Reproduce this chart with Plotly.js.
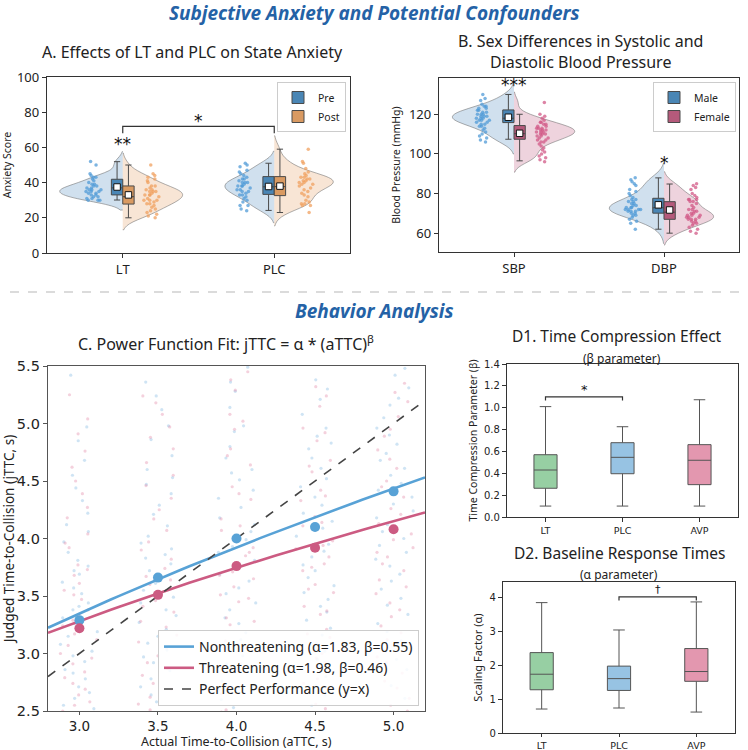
<!DOCTYPE html>
<html>
<head>
<meta charset="utf-8">
<script src="https://cdn.plot.ly/plotly-3.0.1.min.js"></script>
<style>
  html, body { margin: 0; padding: 0; background: #ffffff; }
  #fig { width: 748px; height: 750px; }
</style>
</head>
<body>
<div id="fig"></div>
<script>
// ---------------- Panel A: state anxiety (Pre / Post) ----------------
const anxGroups = ['LT', 'PLC'];
const anxPreLT   = [52, 50, 45, 44, 43, 43, 42, 41, 40, 39, 39, 38, 38, 37, 37, 36, 36, 36, 35, 35, 35, 34, 34, 33, 33, 32, 32, 31, 31, 30, 30, 30];
const anxPostLT  = [50, 45, 44, 43, 42, 41, 40, 38, 38, 37, 36, 36, 35, 35, 35, 34, 33, 33, 33, 32, 31, 30, 30, 30, 29, 28, 28, 27, 26, 25, 24, 23, 22, 21, 20];
const anxPrePLC  = [51, 50, 49, 47, 46, 45, 44, 43, 42, 42, 41, 40, 40, 40, 39, 38, 38, 38, 37, 36, 36, 35, 35, 34, 33, 33, 32, 31, 30, 29, 27, 27, 25, 24];
const anxPostPLC = [59, 52, 51, 48, 46, 45, 44, 43, 43, 42, 42, 41, 41, 40, 40, 39, 39, 38, 37, 36, 35, 34, 33, 32, 30, 29, 28, 28, 27, 27, 23];
// box summaries per group: [lower whisker, Q1, median, Q3, upper whisker]
const anxPreBox  = [[30.1, 33.0, 37.0, 41.9, 51.9], [24.2, 33.3, 37.6, 43.4, 51.0]];
const anxPostBox = [[20.0, 27.8, 32.0, 38.1, 50.0], [23.0, 32.6, 37.7, 43.4, 59.0]];
const anxPreMean  = [37.5, 37.8];
const anxPostMean = [33.0, 38.0];

// ---------------- Panel B: blood pressure by sex ----------------
const bpGroups = ['SBP', 'DBP'];
const bpMaleSBP   = [130, 128, 127, 125, 124, 124, 123, 123, 122, 122, 121, 121, 120, 120, 120, 119, 119, 119, 118, 118, 118, 117, 117, 117, 116, 116, 115, 115, 114, 114, 113, 112, 111, 110, 109, 108, 107, 106];
const bpFemaleSBP = [126, 120, 119, 118, 117, 116, 116, 115, 115, 114, 114, 113, 113, 113, 112, 112, 112, 111, 111, 111, 110, 110, 110, 109, 109, 108, 108, 107, 107, 106, 106, 105, 104, 103, 102, 101, 100, 99, 98, 97, 96];
const bpMaleDBP   = [88, 87, 86, 85, 84, 82, 81, 80, 79, 78, 77, 77, 76, 76, 75, 75, 74, 74, 73, 73, 73, 72, 72, 72, 72, 71, 71, 71, 70, 70, 69, 69, 68, 67, 66, 65, 62];
const bpFemaleDBP = [85, 84, 83, 82, 80, 79, 78, 77, 77, 77, 76, 76, 75, 74, 73, 72, 72, 71, 71, 70, 70, 69, 69, 69, 68, 68, 68, 67, 67, 67, 66, 66, 65, 65, 64, 63, 62, 61, 60];
const bpMaleBox   = [[107.4, 115.8, 118.0, 122.2, 130.0], [62.0, 70.1, 72.8, 77.6, 87.9]];
const bpFemaleBox = [[96.5, 107.4, 110.2, 114.3, 120.0], [60.0, 67.0, 70.6, 75.9, 84.8]];
const bpMaleMean   = [118.5, 74.3];
const bpFemaleMean = [110.4, 71.7];

// ---------------- Panel C: judged vs actual time-to-collision ----------------
const attcLevels = [3.0, 3.5, 4.0, 4.5, 5.0];
const meanNonthreat = [3.29, 3.66, 4.00, 4.10, 4.41];
const meanThreat    = [3.22, 3.51, 3.76, 3.92, 4.08];
const alphaNonthreat = 1.83, betaNonthreat = 0.55;
const alphaThreat    = 1.98, betaThreat    = 0.46;
// individual judgements at each aTTC level
const jttcNonthreat = [
  [5.42, 4.97, 4.68, 4.55, 4.33, 4.22, 4.06, 3.97, 3.81, 3.76, 3.62, 3.57, 3.44, 3.38, 3.31, 3.19, 3.15, 3.02, 2.98, 2.86, 2.83, 2.71, 2.66, 2.55, 2.47, 2.36,
   4.85, 4.12, 3.88, 3.69, 3.52, 3.41, 3.26, 3.08, 2.93, 2.78, 2.61, 2.52, 3.72, 4.44],
  [5.36, 5.24, 4.98, 4.86, 4.60, 4.47, 4.29, 4.21, 4.02, 3.96, 3.83, 3.78, 3.66, 3.61, 3.49, 3.44, 3.33, 3.27, 3.15, 3.09, 2.97, 2.92, 2.78, 2.71, 2.58, 2.47,
   5.12, 4.72, 4.39, 4.11, 3.91, 3.72, 3.55, 3.38, 3.21, 3.03, 2.85, 2.64, 3.86, 4.53],
  [5.49, 5.28, 5.14, 4.93, 4.80, 4.60, 4.51, 4.35, 4.27, 4.12, 4.06, 3.93, 3.88, 3.75, 3.69, 3.57, 3.52, 3.38, 3.31, 3.18, 3.12, 2.98, 2.91, 2.76, 2.68, 2.53,
   5.36, 4.98, 4.70, 4.42, 4.18, 3.99, 3.81, 3.63, 3.44, 3.26, 3.06, 2.84, 2.60, 4.57],
  [5.38, 5.21, 5.08, 4.89, 4.78, 4.61, 4.52, 4.36, 4.29, 4.15, 4.09, 3.95, 3.89, 3.77, 3.72, 3.59, 3.53, 3.41, 3.36, 3.22, 3.16, 3.02, 2.95, 2.80, 2.72, 2.55,
   5.30, 4.96, 4.70, 4.45, 4.22, 4.02, 3.84, 3.66, 3.47, 3.29, 3.09, 2.88, 2.64, 4.83],
  [5.42, 5.31, 5.16, 5.05, 4.90, 4.82, 4.68, 4.61, 4.48, 4.42, 4.30, 4.24, 4.12, 4.06, 3.94, 3.88, 3.76, 3.69, 3.56, 3.48, 3.34, 3.26, 3.11, 3.02, 2.86, 2.61,
   5.48, 5.22, 4.96, 4.74, 4.55, 4.36, 4.18, 4.00, 3.82, 3.63, 3.42, 3.19, 2.95, 2.72]
];
const jttcThreat = [
  [5.25, 5.04, 4.76, 4.62, 4.39, 4.27, 4.04, 3.92, 3.77, 3.68, 3.55, 3.47, 3.34, 3.29, 3.17, 3.12, 3.00, 2.96, 2.84, 2.79, 2.69, 2.64, 2.55, 2.50, 2.38, 2.31,
   4.91, 4.50, 4.18, 3.96, 3.73, 3.51, 3.38, 3.24, 3.07, 2.91, 2.74, 2.58, 2.44, 3.61],
  [5.24, 5.08, 4.97, 4.78, 4.66, 4.46, 4.35, 4.17, 4.07, 3.90, 3.82, 3.67, 3.60, 3.46, 3.41, 3.28, 3.23, 3.10, 3.05, 2.92, 2.87, 2.74, 2.69, 2.56, 2.51, 2.39,
   5.18, 4.88, 4.55, 4.25, 3.97, 3.74, 3.53, 3.36, 3.16, 2.98, 2.81, 2.62, 2.45, 3.64],
  [5.45, 5.29, 5.08, 4.95, 4.78, 4.64, 4.45, 4.34, 4.17, 4.07, 3.92, 3.85, 3.71, 3.65, 3.51, 3.45, 3.31, 3.25, 3.11, 3.05, 2.91, 2.85, 2.71, 2.65, 2.51, 2.44,
   5.38, 5.02, 4.72, 4.39, 4.11, 3.88, 3.68, 3.48, 3.28, 3.08, 2.88, 2.68, 2.49, 3.58],
  [5.32, 5.15, 4.96, 4.85, 4.68, 4.58, 4.42, 4.33, 4.19, 4.11, 3.98, 3.91, 3.78, 3.72, 3.60, 3.53, 3.41, 3.34, 3.21, 3.14, 3.00, 2.92, 2.78, 2.70, 2.56, 2.48,
   5.24, 4.92, 4.63, 4.37, 4.14, 3.94, 3.75, 3.56, 3.37, 3.17, 2.96, 2.74, 2.52, 3.84],
  [5.35, 5.19, 5.06, 4.89, 4.77, 4.61, 4.50, 4.36, 4.26, 4.13, 4.04, 3.92, 3.84, 3.72, 3.64, 3.52, 3.44, 3.32, 3.24, 3.12, 3.04, 2.92, 2.83, 2.70, 2.61, 2.50,
   5.27, 4.95, 4.69, 4.45, 4.21, 3.99, 3.78, 3.58, 3.38, 3.18, 2.97, 2.76, 2.55, 3.88]
];

// ---------------- Panel D: power-function parameters by drug ----------------
const drugGroups = ['LT', 'PLC', 'AVP'];
const betaBox  = [[0.10, 0.263, 0.43, 0.57, 1.01], [0.10, 0.396, 0.546, 0.68, 0.826], [0.10, 0.296, 0.519, 0.662, 1.073]];
const alphaBox = [[0.71, 1.28, 1.74, 2.38, 3.86], [0.74, 1.26, 1.61, 1.98, 3.05], [0.62, 1.53, 1.82, 2.50, 3.88]];

// ---------------- styling ----------------
const UI_FONT = 'Noto Sans, Open Sans, sans-serif';
const NUM_FONT = 'DejaVu Sans, sans-serif';
const W = 748, H = 750;
const px = v => v / W;          // pixel -> paper x
const py = v => 1 - v / H;      // pixel -> paper y

const COL = {
  pre: '#4a86b5', post: '#d99a62', male: '#4a86b5', female: '#b55a7b',
  preViolin: 'rgba(120,165,205,0.35)', postViolin: 'rgba(236,180,135,0.35)',
  femaleViolin: 'rgba(210,140,165,0.38)',
  prePts: 'rgba(80,155,215,0.75)', postPts: 'rgba(240,160,95,0.75)',
  femalePts: 'rgba(210,90,135,0.75)',
  nt: '#58a2d6', th: '#cc5b82',
  ntDots: 'rgba(130,185,225,0.38)', thDots: 'rgba(225,135,165,0.38)',
  dLT: 'rgba(125,195,140,0.8)', dPLC: 'rgba(125,180,220,0.8)', dAVP: 'rgba(220,125,155,0.8)'
};

const traces = [];

// half violin with its strip of points
function halfViolin(vals, pos, side, width, bw, fill, ptColor, pointpos, jitter, xa, ya) {
  return {
    type: 'violin', x: vals.map(() => pos), y: vals, side: side, width: width,
    bandwidth: bw, spanmode: 'soft', scalemode: 'width',
    fillcolor: fill, line: { color: 'rgba(110,110,110,0.55)', width: 1 },
    points: 'all', pointpos: pointpos, jitter: jitter,
    marker: { color: ptColor, size: 3.5, line: { width: 0 } },
    box: { visible: false }, meanline: { visible: false },
    showlegend: false, hoverinfo: 'skip', xaxis: xa, yaxis: ya
  };
}

// narrow summary box placed just beside the category centre
function summaryBox(name, stats, positions, width, fill, xa, ya, legend, showlegend) {
  return {
    type: 'box', name: name, x: positions,
    lowerfence: stats.map(s => s[0]), q1: stats.map(s => s[1]), median: stats.map(s => s[2]),
    q3: stats.map(s => s[3]), upperfence: stats.map(s => s[4]),
    width: width, whiskerwidth: 0.55, fillcolor: fill,
    line: { color: '#4a4a4a', width: 1 }, boxpoints: false,
    xaxis: xa, yaxis: ya, legend: legend, showlegend: showlegend, hoverinfo: 'skip'
  };
}

function meanMarkers(xs, ys, xa, ya) {
  return {
    type: 'scatter', mode: 'markers', x: xs, y: ys, xaxis: xa, yaxis: ya,
    marker: { symbol: 'square', size: 6.5, color: '#ffffff', line: { color: '#111', width: 1 } },
    showlegend: false, hoverinfo: 'skip'
  };
}

const BOXW = 0.075;
const catPos = g => g.map((_, i) => i);
const left = g => catPos(g).map(p => p - BOXW / 2);
const right = g => catPos(g).map(p => p + BOXW / 2);

// ---- A ----
traces.push(halfViolin(anxPreLT, 0, 'negative', 0.83, 2.8, COL.preViolin, COL.prePts, -0.46, 0.14, 'x', 'y'));
traces.push(halfViolin(anxPostLT, 0, 'positive', 0.79, 3.4, COL.postViolin, COL.postPts, 0.49, 0.14, 'x', 'y'));
traces.push(halfViolin(anxPrePLC, 1, 'negative', 0.65, 3.4, COL.preViolin, COL.prePts, -0.61, 0.15, 'x', 'y'));
traces.push(halfViolin(anxPostPLC, 1, 'positive', 0.78, 3.8, COL.postViolin, COL.postPts, 0.54, 0.15, 'x', 'y'));
traces.push(summaryBox('Pre', anxPreBox, left(anxGroups), BOXW, COL.pre, 'x', 'y', 'legend', true));
traces.push(summaryBox('Post', anxPostBox, right(anxGroups), BOXW, COL.post, 'x', 'y', 'legend', true));
traces.push(meanMarkers(left(anxGroups), anxPreMean, 'x', 'y'));
traces.push(meanMarkers(right(anxGroups), anxPostMean, 'x', 'y'));

// ---- B ----
traces.push(halfViolin(bpMaleSBP, 0, 'negative', 0.82, 3.0, COL.preViolin, COL.prePts, -0.5, 0.13, 'x2', 'y2'));
traces.push(halfViolin(bpFemaleSBP, 0, 'positive', 0.81, 2.6, COL.femaleViolin, COL.femalePts, 0.47, 0.12, 'x2', 'y2'));
traces.push(halfViolin(bpMaleDBP, 1, 'negative', 0.73, 3.6, COL.preViolin, COL.prePts, -0.56, 0.15, 'x2', 'y2'));
traces.push(halfViolin(bpFemaleDBP, 1, 'positive', 0.66, 3.0, COL.femaleViolin, COL.femalePts, 0.6, 0.17, 'x2', 'y2'));
traces.push(summaryBox('Male', bpMaleBox, left(bpGroups), BOXW, COL.male, 'x2', 'y2', 'legend2', true));
traces.push(summaryBox('Female', bpFemaleBox, right(bpGroups), BOXW, COL.female, 'x2', 'y2', 'legend2', true));
traces.push(meanMarkers(left(bpGroups), bpMaleMean, 'x2', 'y2'));
traces.push(meanMarkers(right(bpGroups), bpFemaleMean, 'x2', 'y2'));

// ---- C ----
function trialCloud(levels, sets, color) {
  const xs = [], ys = [];
  levels.forEach((lv, i) => sets[i].forEach(v => { xs.push(lv); ys.push(v); }));
  return {
    type: 'box', x: xs, y: ys, width: 0.26, boxpoints: 'all', jitter: 1, pointpos: 0,
    fillcolor: 'rgba(0,0,0,0)', line: { width: 0, color: 'rgba(0,0,0,0)' },
    marker: { color: color, size: 3.2 }, xaxis: 'x3', yaxis: 'y3',
    showlegend: false, hoverinfo: 'skip'
  };
}
traces.push(trialCloud(attcLevels, jttcNonthreat, COL.ntDots));
traces.push(trialCloud(attcLevels, jttcThreat, COL.thDots));

const cRange = [2.8, 5.2];
const fitX = [];
for (let i = 0; i <= 48; i++) fitX.push(cRange[0] + (cRange[1] - cRange[0]) * i / 48);
traces.push({
  type: 'scatter', mode: 'lines', x: fitX, y: fitX.map(x => alphaNonthreat * Math.pow(x, betaNonthreat)),
  line: { color: COL.nt, width: 2.6 }, xaxis: 'x3', yaxis: 'y3', legend: 'legend3',
  name: 'Nonthreatening (α=' + alphaNonthreat.toFixed(2) + ', β=' + betaNonthreat.toFixed(2) + ')'
});
traces.push({
  type: 'scatter', mode: 'lines', x: fitX, y: fitX.map(x => alphaThreat * Math.pow(x, betaThreat)),
  line: { color: COL.th, width: 2.6 }, xaxis: 'x3', yaxis: 'y3', legend: 'legend3',
  name: 'Threatening (α=' + alphaThreat.toFixed(2) + ', β=' + betaThreat.toFixed(2) + ')'
});
traces.push({
  type: 'scatter', mode: 'lines', x: cRange, y: cRange,
  line: { color: '#444', width: 1.6, dash: 'dash' }, xaxis: 'x3', yaxis: 'y3', legend: 'legend3',
  name: 'Perfect Performance (y=x)'
});
traces.push({
  type: 'scatter', mode: 'markers', x: attcLevels, y: meanNonthreat,
  marker: { color: COL.nt, size: 10 }, xaxis: 'x3', yaxis: 'y3', showlegend: false
});
traces.push({
  type: 'scatter', mode: 'markers', x: attcLevels, y: meanThreat,
  marker: { color: COL.th, size: 10 }, xaxis: 'x3', yaxis: 'y3', showlegend: false
});

// ---- D1 / D2 ----
const dFills = [COL.dLT, COL.dPLC, COL.dAVP];
drugGroups.forEach((g, i) => {
  const b1 = summaryBox(g, [betaBox[i]], [i], 0.3, dFills[i], 'x4', 'y4', 'legend', false);
  b1.whiskerwidth = 0.5; b1.line = { color: '#555', width: 1 };
  traces.push(b1);
  const b2 = summaryBox(g, [alphaBox[i]], [i], 0.3, dFills[i], 'x5', 'y5', 'legend', false);
  b2.whiskerwidth = 0.5; b2.line = { color: '#555', width: 1 };
  traces.push(b2);
});

// ---------------- axes ----------------
function frame(extra) {
  return Object.assign({
    showline: true, mirror: true, linecolor: '#333', linewidth: 1.2,
    ticks: 'outside', ticklen: 4, tickcolor: '#333', tickwidth: 1,
    showgrid: false, zeroline: false, automargin: false, fixedrange: true
  }, extra);
}

// centred text placed in page pixels
function label(xPix, yPix, text, size, extra) {
  return Object.assign({ xref: 'paper', yref: 'paper', x: px(xPix), y: py(yPix), text: text,
    xanchor: 'center', yanchor: 'middle', showarrow: false, font: { size: size } }, extra || {});
}
function sig(xa, ya, x, y, text, size) {
  return { xref: xa, yref: ya, x: x, y: y, text: text, xanchor: 'center', yanchor: 'middle',
    showarrow: false, font: { size: size, family: NUM_FONT, color: '#111' } };
}

const layout = {
  width: W, height: H, margin: { l: 0, r: 0, t: 0, b: 0 },
  paper_bgcolor: '#ffffff', plot_bgcolor: '#ffffff',
  font: { family: UI_FONT, color: '#222' },
  boxmode: 'overlay', violinmode: 'overlay', showlegend: true,

  xaxis: frame({ domain: [px(47), px(350)], anchor: 'y', type: 'linear', range: [-0.5, 1.5],
    tickvals: catPos(anxGroups), ticktext: anxGroups, tickfont: { size: 13 } }),
  yaxis: frame({ domain: [py(253), py(77)], anchor: 'x', range: [0, 100], dtick: 20,
    tickfont: { size: 13 }, title: { text: 'Anxiety Score', font: { size: 10.5 }, standoff: 6 } }),

  xaxis2: frame({ domain: [px(439), px(739)], anchor: 'y2', type: 'linear', range: [-0.5, 1.5],
    tickvals: catPos(bpGroups), ticktext: bpGroups, tickfont: { size: 13 } }),
  yaxis2: frame({ domain: [py(252), py(78)], anchor: 'x2', range: [50.5, 138.3], tickvals: [60, 80, 100, 120],
    tickfont: { size: 13 }, title: { text: 'Blood Pressure (mmHg)', font: { size: 10.5 }, standoff: 6 } }),

  xaxis3: frame({ domain: [px(48), px(425)], anchor: 'y3', type: 'linear', range: cRange, dtick: 0.5,
    tickformat: '.1f', linecolor: '#555', tickcolor: '#555', ticklen: 3, tickfont: { size: 13.5, family: NUM_FONT } }),
  yaxis3: frame({ domain: [py(711), py(366)], anchor: 'x3', range: [2.5, 5.5], dtick: 0.5,
    tickformat: '.1f', linecolor: '#555', tickcolor: '#555', tickfont: { size: 14.5, family: NUM_FONT },
    title: { text: 'Judged Time-to-Collision (jTTC, s)', font: { size: 13.5 }, standoff: 4 } }),

  xaxis4: frame({ domain: [px(507), px(738)], anchor: 'y4', type: 'linear', range: [-0.5, 2.5],
    tickvals: catPos(drugGroups), ticktext: drugGroups, tickfont: { size: 9.5, family: NUM_FONT } }),
  yaxis4: frame({ domain: [py(517), py(364)], anchor: 'x4', range: [0, 1.4], dtick: 0.2, tickformat: '.1f',
    tickfont: { size: 10, family: NUM_FONT },
    title: { text: 'Time Compression Parameter (β)', font: { size: 10.5 }, standoff: 4 } }),

  xaxis5: frame({ domain: [px(503), px(735)], anchor: 'y5', type: 'linear', range: [-0.5, 2.5],
    tickvals: catPos(drugGroups), ticktext: drugGroups, ticklen: 3, tickfont: { size: 9.5, family: NUM_FONT } }),
  yaxis5: frame({ domain: [py(733), py(582)], anchor: 'x5', range: [0, 4.47], dtick: 1,
    tickfont: { size: 10, family: NUM_FONT },
    title: { text: 'Scaling Factor (α)', font: { size: 11 }, standoff: 4 } }),

  legend: { x: px(346), xanchor: 'right', y: py(82), yanchor: 'top', bgcolor: '#ffffff',
    bordercolor: '#cccccc', borderwidth: 1, font: { size: 10.5 }, itemwidth: 30, tracegroupgap: 0 },
  legend2: { x: px(736), xanchor: 'right', y: py(82), yanchor: 'top', bgcolor: '#ffffff',
    bordercolor: '#cccccc', borderwidth: 1, font: { size: 10.5 }, itemwidth: 30, tracegroupgap: 0 },
  legend3: { x: px(419), xanchor: 'right', y: py(706), yanchor: 'bottom', bgcolor: 'rgba(255,255,255,0.85)',
    bordercolor: '#cccccc', borderwidth: 1, font: { size: 14 }, itemwidth: 30, tracegroupgap: 0 },

  shapes: [
    // divider between the two sections
    { type: 'line', xref: 'paper', yref: 'paper', x0: px(10), x1: px(740), y0: py(292), y1: py(292),
      line: { color: '#cfcfcf', width: 1.5, dash: 'dash' } },
    // LT vs PLC bracket (A)
    { type: 'path', xref: 'x', yref: 'y', path: 'M0,68 L0,72 L1,72 L1,68', line: { color: '#333', width: 1.2 } },
    // LT vs PLC bracket (D1)
    { type: 'path', xref: 'x4', yref: 'y4', path: 'M0,1.065 L0,1.10 L1,1.10 L1,1.065', line: { color: '#333', width: 1.2 } },
    // PLC vs AVP bracket (D2)
    { type: 'path', xref: 'x5', yref: 'y5', path: 'M1,3.92 L1,4.03 L2,4.03 L2,3.92', line: { color: '#333', width: 1.2 } }
  ],

  annotations: [
    label(374, 13, '<b><i>Subjective Anxiety and Potential Confounders</i></b>', 19, { font: { size: 19, color: '#2462a6' } }),
    label(374, 311, '<b><i>Behavior Analysis</i></b>', 19, { font: { size: 19, color: '#2462a6' } }),
    label(192, 52, 'A. Effects of LT and PLC on State Anxiety', 16),
    label(580, 51, 'B. Sex Differences in Systolic and<br>Diastolic Blood Pressure', 16),
    label(226, 343, 'C. Power Function Fit: jTTC = α * (aTTC)<sup>β</sup>', 16),
    label(617, 336, 'D1. Time Compression Effect', 15.5),
    label(622, 358, '(β parameter)', 12),
    label(619, 553, 'D2. Baseline Response Times', 15.5),
    label(619, 574, '(α parameter)', 12),
    // x-axis title of panel C, set just under its tick labels
    label(236, 741.5, 'Actual Time-to-Collision (aTTC, s)', 12.5, { borderpad: 0 }),
    // significance marks
    sig('x', 'y', 0, 62, '**', 17),
    sig('x', 'y', 0.5, 75, '*', 17),
    sig('x2', 'y2', 0, 135, '***', 17),
    sig('x2', 'y2', 1, 95.5, '*', 17),
    sig('x4', 'y4', 0.5, 1.17, '*', 13),
    sig('x5', 'y5', 1.5, 4.25, '†', 11)
  ]
};

Plotly.newPlot('fig', traces, layout, { staticPlot: true, displayModeBar: false });
</script>
</body>
</html>
